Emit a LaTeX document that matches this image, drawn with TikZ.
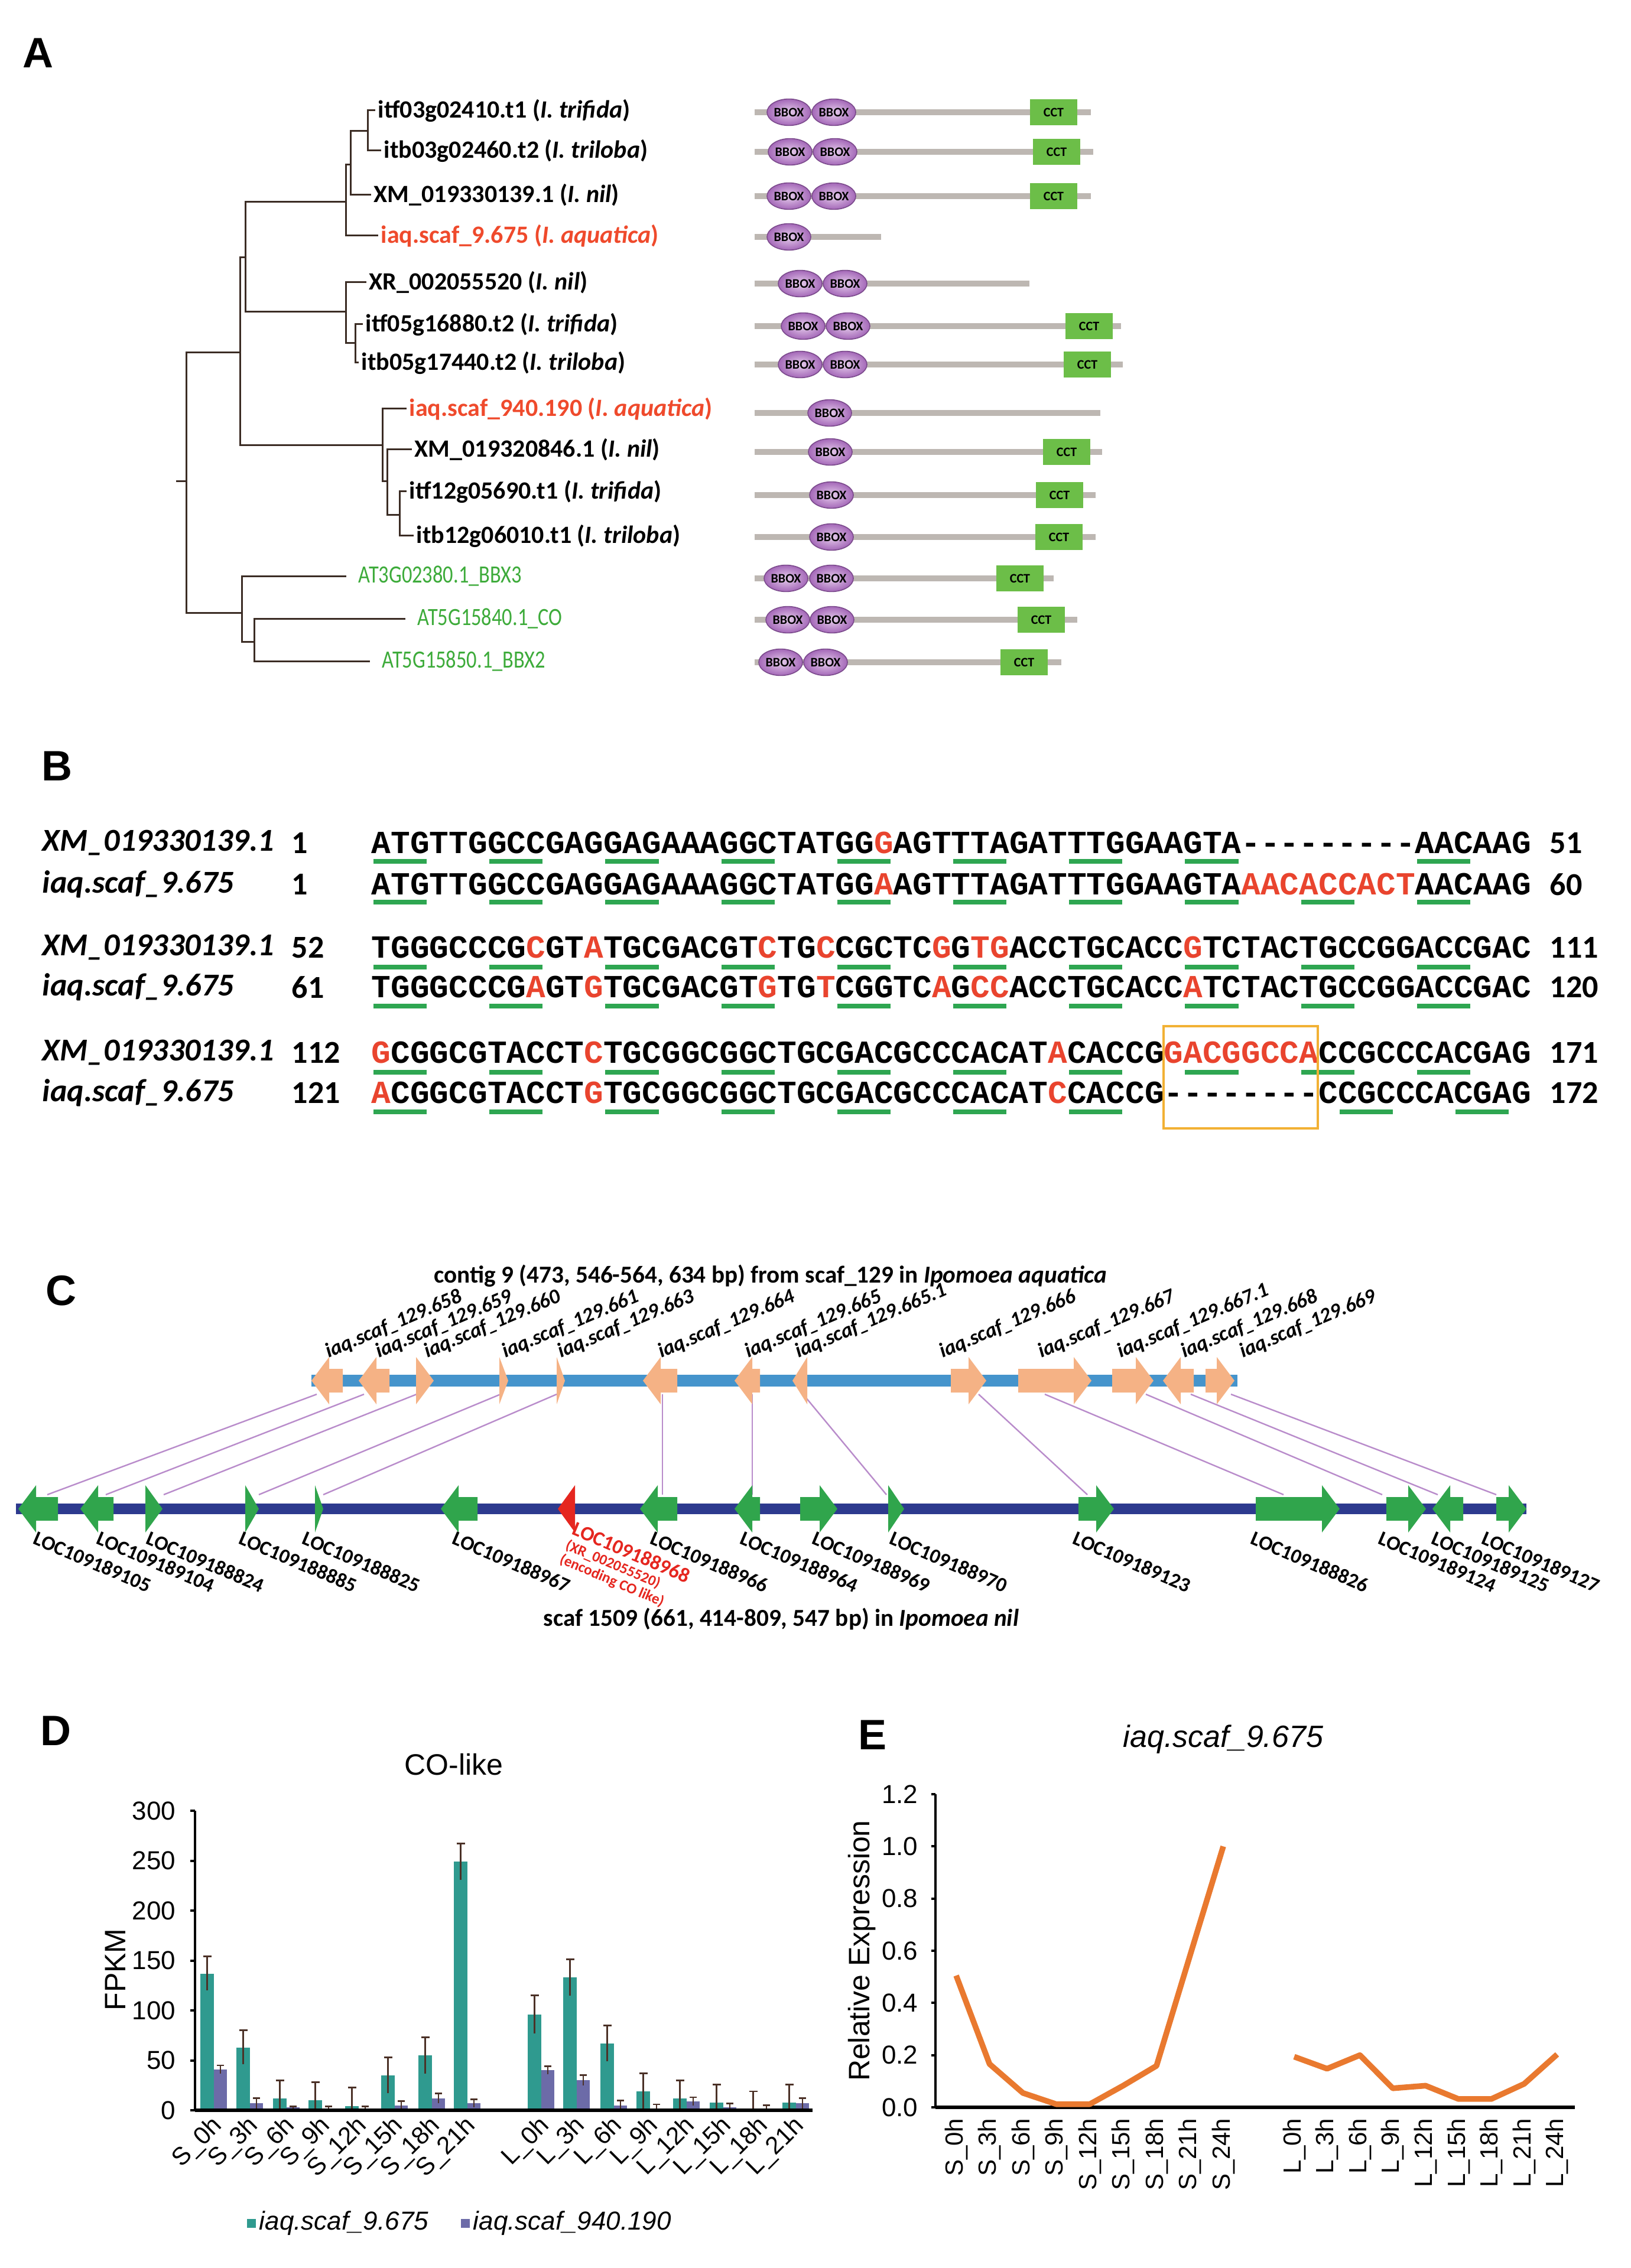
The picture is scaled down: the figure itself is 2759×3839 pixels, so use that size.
\documentclass[tikz,border=0pt]{standalone}
\usepackage{fontspec}
\setmainfont{Carlito}
\newfontfamily\arialfont{Liberation Sans}
\newfontfamily\monofont{Liberation Mono}
\newfontfamily\narrowfont{Carlito}[FakeStretch=0.82]
\usetikzlibrary{shapes.geometric}

\definecolor{treeline}{HTML}{3B2C24}
\definecolor{aqred}{HTML}{EF4A2C}
\definecolor{atgreen}{HTML}{3DAB3A}
\definecolor{domgray}{HTML}{BDB7B2}
\definecolor{bboxin}{HTML}{E6CDEC}
\definecolor{bboxout}{HTML}{A468B8}
\definecolor{bboxrim}{HTML}{7B4A8C}
\definecolor{cctgreen}{HTML}{6CBE48}
\definecolor{seqred}{HTML}{E9442E}
\definecolor{codon}{HTML}{2EA651}
\definecolor{boxorange}{HTML}{F2B134}
\definecolor{aqbar}{HTML}{4594CC}
\definecolor{aqgene}{HTML}{F5B285}
\definecolor{nilbar}{HTML}{2D3A8E}
\definecolor{nilgene}{HTML}{30A54C}
\definecolor{cogene}{HTML}{E5261F}
\definecolor{synteny}{HTML}{B98CCB}
\definecolor{barteal}{HTML}{2F9A8F}
\definecolor{barpurple}{HTML}{6C6BA8}
\definecolor{errcol}{HTML}{4B3127}
\definecolor{lineorange}{HTML}{E9792F}

\newcommand\R[1]{\textcolor{seqred}{#1}}
\newcommand\gp{\mbox{-}}
\newcommand\dval[1]{3572-1.69*(#1)}
\newcommand\eval[1]{3567-441.7*(#1)}
% block arrow for a gene: colour, tail x, tip x, y
\newcommand\garrow[4]{%
  \pgfmathsetmacro\gdir{(#3>#2) ? 1 : -1}%
  \pgfmathsetmacro\ghead{min(30,abs(#3-#2))}%
  \pgfmathsetmacro\gbase{#3-\gdir*\ghead}%
  \fill[#1] (#2,#4-20) -- (\gbase,#4-20) -- (\gbase,#4-40) -- (#3,#4)
    -- (\gbase,#4+40) -- (\gbase,#4+20) -- (#2,#4+20) -- cycle;}

\tikzset{
  panel/.style={inner sep=0, font=\arialfont\bfseries\fontsize{18}{20}\selectfont},
  leaf/.style={anchor=west, inner sep=1pt, font=\bfseries\fontsize{10.5}{12}\selectfont},
  atleaf/.style={anchor=west, inner sep=1pt, text=atgreen, font=\narrowfont\fontsize{10.5}{12}\selectfont},
  branch/.style={draw=treeline, line width=0.75pt},
  domline/.style={draw=domgray, line width=2.5pt},
  bbox/.style={ellipse, draw=bboxrim, line width=0.4pt, inner color=bboxin, outer color=bboxout,
    minimum width=18.5pt, minimum height=11.2pt, inner sep=0, font=\bfseries\fontsize{5.5}{6}\selectfont},
  cct/.style={rectangle, fill=cctgreen, minimum width=20pt, minimum height=11.2pt, inner sep=0,
    font=\bfseries\fontsize{5.5}{6}\selectfont},
  seqname/.style={anchor=west, inner sep=0, font=\bfseries\itshape\fontsize{13.5}{15}\selectfont},
  seqnum/.style={anchor=west, inner sep=0, font=\bfseries\fontsize{13.5}{15}\selectfont},
  seq/.style={anchor=west, inner sep=0, font=\monofont\bfseries\fontsize{13.625}{15}\selectfont},
  codonbar/.style={draw=codon, line width=2pt},
  ctitle/.style={inner sep=0, font=\bfseries\fontsize{10.3}{12}\selectfont},
  toplab/.style={anchor=south west, inner sep=0, rotate=23, font=\bfseries\itshape\fontsize{8.8}{10}\selectfont},
  botlab/.style={anchor=north west, inner sep=0, rotate=-23, font=\bfseries\fontsize{8.6}{10}\selectfont},
  synline/.style={draw=synteny, line width=0.6pt},
  axis/.style={draw=black, line width=1pt},
  ticklab/.style={anchor=east, inner sep=0, font=\arialfont\fontsize{11}{12}\selectfont},
  xlabD/.style={anchor=east, inner sep=0, rotate=45, font=\arialfont\fontsize{10.5}{12}\selectfont},
  xlabE/.style={anchor=east, inner sep=0, rotate=90, font=\arialfont\fontsize{10.5}{12}\selectfont},
  charttext/.style={inner sep=0, font=\arialfont\fontsize{12.5}{14}\selectfont}
}

\begin{document}
\begin{tikzpicture}[x=0.25pt,y=-0.25pt]
\fill[white] (0,0) rectangle (2759,3839);
\useasboundingbox (0,0) rectangle (2759,3839);

% A: tree and domains
\node[panel] (pA) at (64,90) {A};
\node[leaf] (l1) at (635,187) {itf03g02410.t1 (\textit{I. trifida})};
\node[leaf] (l2) at (645,255) {itb03g02460.t2 (\textit{I. triloba})};
\node[leaf] (l3) at (628,330) {XM\_019330139.1 (\textit{I. nil})};
\node[leaf,text=aqred] (l4) at (640,399) {iaq.scaf\_9.675 (\textit{I. aquatica})};
\node[leaf] (l5) at (620,478) {XR\_002055520 (\textit{I. nil})};
\node[leaf] (l6) at (614,549) {itf05g16880.t2 (\textit{I. trifida})};
\node[leaf] (l7) at (607,614) {itb05g17440.t2 (\textit{I. triloba})};
\node[leaf,text=aqred] (l8) at (688,692) {iaq.scaf\_940.190 (\textit{I. aquatica})};
\node[leaf] (l9) at (697,761) {XM\_019320846.1 (\textit{I. nil})};
\node[leaf] (l10) at (688,832) {itf12g05690.t1 (\textit{I. trifida})};
\node[leaf] (l11) at (700,907) {itb12g06010.t1 (\textit{I. triloba})};
\node[atleaf] (l12) at (602,975) {AT3G02380.1\_BBX3};
\node[atleaf] (l13) at (702,1047) {AT5G15840.1\_CO};
\node[atleaf] (l14) at (642,1119) {AT5G15850.1\_BBX2};

\coordinate (t1) at (622,222);
\coordinate (t2) at (593,279);
\coordinate (t3) at (585,342);
\coordinate (t4) at (601,581);
\coordinate (t5) at (585,528);
\coordinate (t6) at (415,436);
\coordinate (t7) at (676,872);
\coordinate (t8) at (655,815);
\coordinate (t9) at (647,754);
\coordinate (t10) at (406,597);
\coordinate (t11) at (430,1086);
\coordinate (t12) at (409,1037);
\coordinate (t13) at (315,815);
\coordinate (root) at (298,815);

\draw[branch] (t1) |- (l1.west);
\draw[branch] (t1) |- (l2.west);
\draw[branch] (t2) |- (t1);
\draw[branch] (t2) |- (l3.west);
\draw[branch] (t3) |- (t2);
\draw[branch] (t3) |- (l4.west);
\draw[branch] (t4) |- (l6.west);
\draw[branch] (t4) |- (l7.west);
\draw[branch] (t5) |- (l5.west);
\draw[branch] (t5) |- (t4);
\draw[branch] (t6) |- (t3);
\draw[branch] (t6) |- (t5);
\draw[branch] (t7) |- (l10.west);
\draw[branch] (t7) |- (l11.west);
\draw[branch] (t8) |- (l9.west);
\draw[branch] (t8) |- (t7);
\draw[branch] (t9) |- (l8.west);
\draw[branch] (t9) |- (t8);
\draw[branch] (t10) |- (t6);
\draw[branch] (t10) |- (t9);
\draw[branch] (t11) |- ([xshift=-4pt]l13.west);
\draw[branch] (t11) |- ([xshift=-4pt]l14.west);
\draw[branch] (t12) |- ([xshift=-4pt]l12.west);
\draw[branch] (t12) |- (t11);
\draw[branch] (t13) |- (t10);
\draw[branch] (t13) |- (t12);
\draw[branch] (root) -- (t13);

\foreach \r/\y/\e/\bb/\cc in {1/190/1846/{1335,1411}/1783, 2/257/1850/{1337,1413}/1788,
    3/332/1846/{1335,1411}/1783, 4/401/1491/{1335}/0, 5/480/1742/{1354,1430}/0,
    6/552/1897/{1359,1435}/1843, 7/617/1900/{1354,1430}/1840, 8/699/1862/{1404}/0,
    9/765/1865/{1405}/1805, 10/838/1854/{1407}/1793, 11/909/1854/{1407}/1792,
    12/979/1783/{1330,1407}/1726, 13/1049/1823/{1333,1408}/1762, 14/1121/1796/{1321,1397}/1733} {
  \draw[domline] (1277,\y) -- (\e,\y);
  \foreach \b [count=\k] in \bb
    \node[bbox] (bb\r-\k) at (\b,\y) {BBOX};
  \ifnum\cc>0 \node[cct] (cct\r) at (\cc,\y) {CCT};\fi
}

% B: alignment
\node[panel] (pB) at (96,1297) {B};
\node[seqname] (n1) at (71,1427) {XM\_019330139.1};
\node[seqnum] (s1) at (493,1427) {1};
\node[seq] (x1) at (628,1427) {ATGTTGGCCGAGGAGAAAGGCTATGG\R{G}AGTTTAGATTTGGAAGTA\gp\gp\gp\gp\gp\gp\gp\gp\gp AACAAG};
\node[seqnum] (e1) at (2622,1427) {51};
\node[seqname] (n2) at (71,1497) {iaq.scaf\_9.675};
\node[seqnum] (s2) at (493,1497) {1};
\node[seq] (q1) at (628,1497) {ATGTTGGCCGAGGAGAAAGGCTATGG\R{A}AGTTTAGATTTGGAAGTA\R{AACACCACT}AACAAG};
\node[seqnum] (e2) at (2622,1497) {60};

\node[seqname] (n3) at (71,1604) {XM\_019330139.1};
\node[seqnum] (s3) at (493,1604) {52};
\node[seq] (x2) at (628,1604) {TGGGCCCG\R{C}GT\R{A}TGCGACGT\R{C}TG\R{C}CGCTC\R{G}G\R{TG}ACCTGCACC\R{G}TCTACTGCCGGACCGAC};
\node[seqnum] (e3) at (2622,1604) {111};
\node[seqname] (n4) at (71,1671) {iaq.scaf\_9.675};
\node[seqnum] (s4) at (493,1671) {61};
\node[seq] (q2) at (628,1671) {TGGGCCCG\R{A}GT\R{G}TGCGACGT\R{G}TG\R{T}CGGTC\R{A}G\R{CC}ACCTGCACC\R{A}TCTACTGCCGGACCGAC};
\node[seqnum] (e4) at (2622,1671) {120};

\node[seqname] (n5) at (71,1782) {XM\_019330139.1};
\node[seqnum] (s5) at (493,1782) {112};
\node[seq] (x3) at (628,1782) {\R{G}CGGCGTACCT\R{C}TGCGGCGGCTGCGACGCCCACAT\R{A}CACCG\R{GACGGCCA}CCGCCCACGAG};
\node[seqnum] (e5) at (2622,1782) {171};
\node[seqname] (n6) at (71,1850) {iaq.scaf\_9.675};
\node[seqnum] (s6) at (493,1850) {121};
\node[seq] (q3) at (628,1850) {\R{A}CGGCGTACCT\R{G}TGCGGCGGCTGCGACGCCCACAT\R{C}CACCG\gp\gp\gp\gp\gp\gp\gp\gp CCGCCCACGAG};
\node[seqnum] (e6) at (2622,1850) {172};

\foreach \y/\cols in {1458/{1,7,13,19,25,31,37,43,55}, 1527/{1,7,...,55}, 1637/{1,7,...,55},
    1703/{1,7,...,55}, 1815/{1,7,...,55}, 1882/{1,7,13,19,25,31,37,51,57}}
  \foreach \c in \cols
    \draw[codonbar] ({628+(\c-1)*32.7+4},\y) -- ({628+(\c+2)*32.7-4},\y);
\draw[boxorange, line width=0.8pt] (1969,1737) rectangle (2230,1910);

% C: synteny
\node[panel] (pC) at (103,2185) {C};
\node[ctitle] (ctop) at (1304,2160) {contig 9 (473, 546-564, 634 bp) from scaf\_129 in \textit{Ipomoea aquatica}};
\node[ctitle] (cbot) at (1322,2740) {scaf 1509 (661, 414-809, 547 bp) in \textit{Ipomoea nil}};

\foreach \xa/\xb [count=\i] in {536/80,616/179,705/277,847/438,942/547,1121/1121,1273/1273,
    1359/1500,1656/1840,1768/2172,1939/2339,2015/2433,2083/2532} {
  \coordinate (ta\i) at (\xa,2360);
  \coordinate (tb\i) at (\xb,2530);
  \draw[synline] (ta\i) -- (tb\i);
}

\draw[aqbar, line width=5pt] (527,2337) -- (2094,2337);
\foreach \t/\p in {580/527,659/607,704/734,845/860,942/956,1146/1088,1286/1243,1366/1341,
    1609/1669,1723/1847,1882/1952,2020/1968,2040/2089}
  \garrow{aqgene}{\t}{\p}{2337};

\draw[nilbar, line width=4.5pt] (27,2554) -- (2583,2554);
\foreach \t/\p in {98/31,192/136,246/275,415/438,533/547,808/746,1146/1083,1286/1243,1354/1417,
    1503/1530,1825/1885,2125/2267,2346/2413,2476/2424,2532/2583}
  \garrow{nilgene}{\t}{\p}{2554};
\garrow{cogene}{973}{944}{2554};

\foreach \n/\x [count=\i] in {658/558,659/643,660/725,661/857,663/951,664/1121,665/1268,665.1/1353,
    666/1597,667/1764,667.1/1898,668/2006,669/2105}
  \node[toplab] (lt\i) at (\x,2305) {iaq.scaf\_129.\n};

\foreach \n/\x [count=\i] in {109189105/63,109189104/170,109188824/254,109188885/411,109188825/518,
    109188967/772,109188966/1107,109188964/1259,109188969/1381,109188970/1512,109189123/1822,
    109188826/2123,109189124/2339,109189125/2429,109189127/2514}
  \node[botlab] (lb\i) at (\x,2590) {LOC\n};
\node[botlab, text=cogene, align=left] (lbco) at (975,2574)
  {LOC109188968\\[-3.2pt]{\fontsize{6.3}{7}\selectfont(XR\_002055520)}\\[-3.6pt]{\fontsize{6.3}{7}\selectfont(encoding CO like)}};

% D: FPKM bars
\node[panel] (pD) at (94,2930) {D};
\node[charttext] (dtitle) at (768,2987) {CO-like};
\node[charttext, rotate=90] (dylab) at (195,3334) {FPKM};
\foreach \v in {0,50,...,300} {
  \node[ticklab] (dy\v) at (298,{\dval{\v}}) {\v};
  \draw[axis] (322,{\dval{\v}}) -- (330,{\dval{\v}});
}
\foreach \lab/\x/\a/\ea/\b/\eb [count=\i] in {S\_0h/350/137/17/41/4, S\_3h/411/63/17/7/5,
    S\_6h/473/12/18/3/1, S\_9h/533/10/18/2/2, S\_12h/595/4/19/2/2, S\_15h/656/35/18/5/4,
    S\_18h/719/55/18/12/5, S\_21h/779/249/18/7/4, L\_0h/904/96/19/40/4, L\_3h/964/133/18/30/5,
    L\_6h/1027/67/18/5/5, L\_9h/1088/19/18/2/4, L\_12h/1150/12/18/9/4, L\_15h/1212/8/18/3/4,
    L\_18h/1274/1/18/2/3, L\_21h/1335/8/18/7/5} {
  \fill[barteal] (\x-11,3572) rectangle (\x+12,{\dval{\a}});
  \fill[barpurple] (\x+12,3572) rectangle (\x+34,{\dval{\b}});
  \draw[errcol, line width=0.7pt] (\x+0.5,{\dval{max(0,\a-\ea)}}) -- (\x+0.5,{\dval{\a+\ea}})
    +(-7,0) -- +(7,0);
  \draw[errcol, line width=0.7pt] (\x+23,{\dval{max(0,\b-\eb)}}) -- (\x+23,{\dval{\b+\eb}})
    +(-6,0) -- +(6,0);
  \node[xlabD] (dx\i) at (\x+20,3592) {\lab};
}
\draw[axis] (330,3065) -- (330,3572);
\draw[axis, line width=1.4pt] (330,3572) -- (1375,3572);
\fill[barteal] (418,3756) rectangle +(15,15);
\node[anchor=west, inner sep=0, font=\arialfont\itshape\fontsize{11}{12}\selectfont] (leg1) at (438,3763) {iaq.scaf\_9.675};
\fill[barpurple] (780,3756) rectangle +(15,15);
\node[anchor=west, inner sep=0, font=\arialfont\itshape\fontsize{11}{12}\selectfont] (leg2) at (800,3763) {iaq.scaf\_940.190};

% E: relative expression
\node[panel] (pE) at (1476,2937) {E};
\node[charttext, font=\arialfont\itshape\fontsize{13}{14}\selectfont] (etitle) at (2070,2944) {iaq.scaf\_9.675};
\node[charttext, rotate=90] (eylab) at (1459,3302) {Relative Expression};
\foreach \v [count=\i] in {0.0,0.2,0.4,0.6,0.8,1.0,1.2} {
  \node[ticklab] (ey\i) at (1554,{\eval{\v}}) {\v};
  \draw[axis] (1576,{\eval{\v}}) -- (1583,{\eval{\v}});
}
\draw[axis] (1583,3037) -- (1583,3567);
\draw[axis, line width=1.4pt] (1583,3567) -- (2665,3567);
\foreach \lab [count=\i] in {S\_0h,S\_3h,S\_6h,S\_9h,S\_12h,S\_15h,S\_18h,S\_21h,S\_24h}
  \node[xlabE] (ex\i) at ({1618+(\i-1)*56.5},3585) {\lab};
\foreach \lab [count=\i] in {L\_0h,L\_3h,L\_6h,L\_9h,L\_12h,L\_15h,L\_18h,L\_21h,L\_24h}
  \node[xlabE] (el\i) at ({2190+(\i-1)*55.6},3585) {\lab};
\draw[lineorange, line width=2.4pt, line join=round] plot coordinates {
  (1618,{\eval{0.505}}) (1674.5,{\eval{0.166}}) (1731,{\eval{0.055}}) (1787.5,{\eval{0.012}})
  (1844,{\eval{0.012}}) (1900.5,{\eval{0.083}}) (1957,{\eval{0.159}}) (2013.5,{\eval{0.58}})
  (2070,{\eval{1.0}})};
\draw[lineorange, line width=2.4pt, line join=round] plot coordinates {
  (2190,{\eval{0.194}}) (2245.6,{\eval{0.148}}) (2301.2,{\eval{0.2}}) (2356.8,{\eval{0.073}})
  (2412.4,{\eval{0.083}}) (2468,{\eval{0.032}}) (2523.6,{\eval{0.032}}) (2579.2,{\eval{0.09}})
  (2635,{\eval{0.203}})};
\end{tikzpicture}
\end{document}
